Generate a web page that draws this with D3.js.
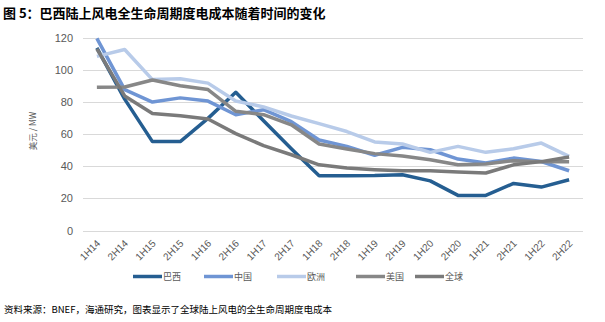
<!DOCTYPE html>
<html><head><meta charset="utf-8">
<script src="https://cdn.jsdelivr.net/npm/d3@7"></script>
<style>body{margin:0;background:#fff;}svg{display:block;font-family:"Noto Sans CJK SC","Noto Sans",sans-serif;}</style>
</head><body><svg id="c" width="605" height="322"></svg>
<script>
const categories = ["1H14","2H14","1H15","2H15","1H16","2H16","1H17","2H17","1H18","2H18","1H19","2H19","1H20","2H20","1H21","2H21","1H22","2H22"];
const brazil = [114,82,55.5,55.5,70,86.3,68.5,51,34.2,34.2,34.3,34.8,31,21.9,21.9,29.4,27.1,31.7];
const china  = [120,88,80.2,82.8,80.8,72.3,75.4,68,56.5,52.5,47,51.9,50.4,44.6,42.1,45.2,43.1,37.3];
const europe = [108.7,113,94.2,94.8,92,80.8,77.2,71.5,66.7,61.8,55.3,54,48.8,52.5,48.8,51,54.6,46.3];
const usa    = [89.4,89.6,94,90.4,88,74.4,72.3,66,54,50.9,48,46.5,44.2,41,41.5,43.6,43,43];
const globalV= [113.4,84,73,71.7,69.6,60.5,53,47.3,41,39,38,37.3,37.3,36.5,35.9,41,43,45.9];
const yTicks = [0,20,40,60,80,100,120];
const seriesNames = ["巴西","中国","欧洲","美国","全球"];
const seriesData = [brazil, china, europe, usa, globalV];
const colors = ["#255e91","#6f95d4","#b8cbe9","#878787","#7a7a7a"];

const svg = d3.select("#c");
const x = d3.scaleBand().domain(categories).range([83,583]);
const y = d3.scaleLinear().domain([0,120]).range([230.5,38.3]);

// title
svg.append("text").attr("x",3).attr("y",18).attr("font-size",13).attr("font-weight","bold").attr("fill","#000")
  .text("图 5：巴西陆上风电全生命周期度电成本随着时间的变化");

// grid
svg.append("g").selectAll("line").data(yTicks).join("line")
  .attr("x1",83).attr("x2",583).attr("y1",d=>Math.round(y(d))+0.5).attr("y2",d=>Math.round(y(d))+0.5)
  .attr("stroke","#d9d9d9").attr("stroke-width",1);

// y axis labels
const ya = svg.append("g").attr("transform","translate(83,0)")
  .call(d3.axisLeft(y).tickValues(yTicks).tickSize(0).tickPadding(10));
ya.select(".domain").remove();
ya.selectAll("text").attr("font-size",11).attr("fill","#595959").attr("font-family","Liberation Sans, Arial, sans-serif");

// axis title
svg.append("text").attr("transform","translate(36,131) rotate(-90)").attr("text-anchor","middle")
  .attr("font-size",8.5).attr("fill","#595959").text("美元 / MW");

// x axis labels
const xa = svg.append("g").attr("transform","translate(0,231)")
  .call(d3.axisBottom(x).tickSize(0).tickPadding(0));
xa.select(".domain").remove();
xa.selectAll("text").attr("font-size",10).attr("fill","#595959").attr("font-family","Liberation Sans, Arial, sans-serif")
  .attr("text-anchor","end").attr("dy",0).attr("transform","translate(4,13) rotate(-45)");

// lines
const line = d3.line().x((d,i)=>x(categories[i])+x.bandwidth()/2).y(d=>y(d));
seriesData.forEach((s,k)=>{
  svg.append("path").datum(s).attr("d",line).attr("fill","none")
    .attr("stroke",colors[k]).attr("stroke-width",3.5).attr("stroke-linejoin","round").attr("stroke-linecap","butt");
});

// legend
const legX = [133,204,277,356,415];
const lg = svg.append("g");
seriesNames.forEach((n,k)=>{
  lg.append("line").attr("x1",legX[k]).attr("x2",legX[k]+29).attr("y1",276.5).attr("y2",276.5)
    .attr("stroke",colors[k]).attr("stroke-width",3.5);
  lg.append("text").attr("x",legX[k]+30).attr("y",280).attr("font-size",9).attr("fill","#595959").text(n);
});

// source
svg.append("text").attr("x",4).attr("y",313).attr("font-size",9.5).attr("fill","#000")
  .text("资料来源：BNEF，海通研究，图表显示了全球陆上风电的全生命周期度电成本");
</script></body></html>
